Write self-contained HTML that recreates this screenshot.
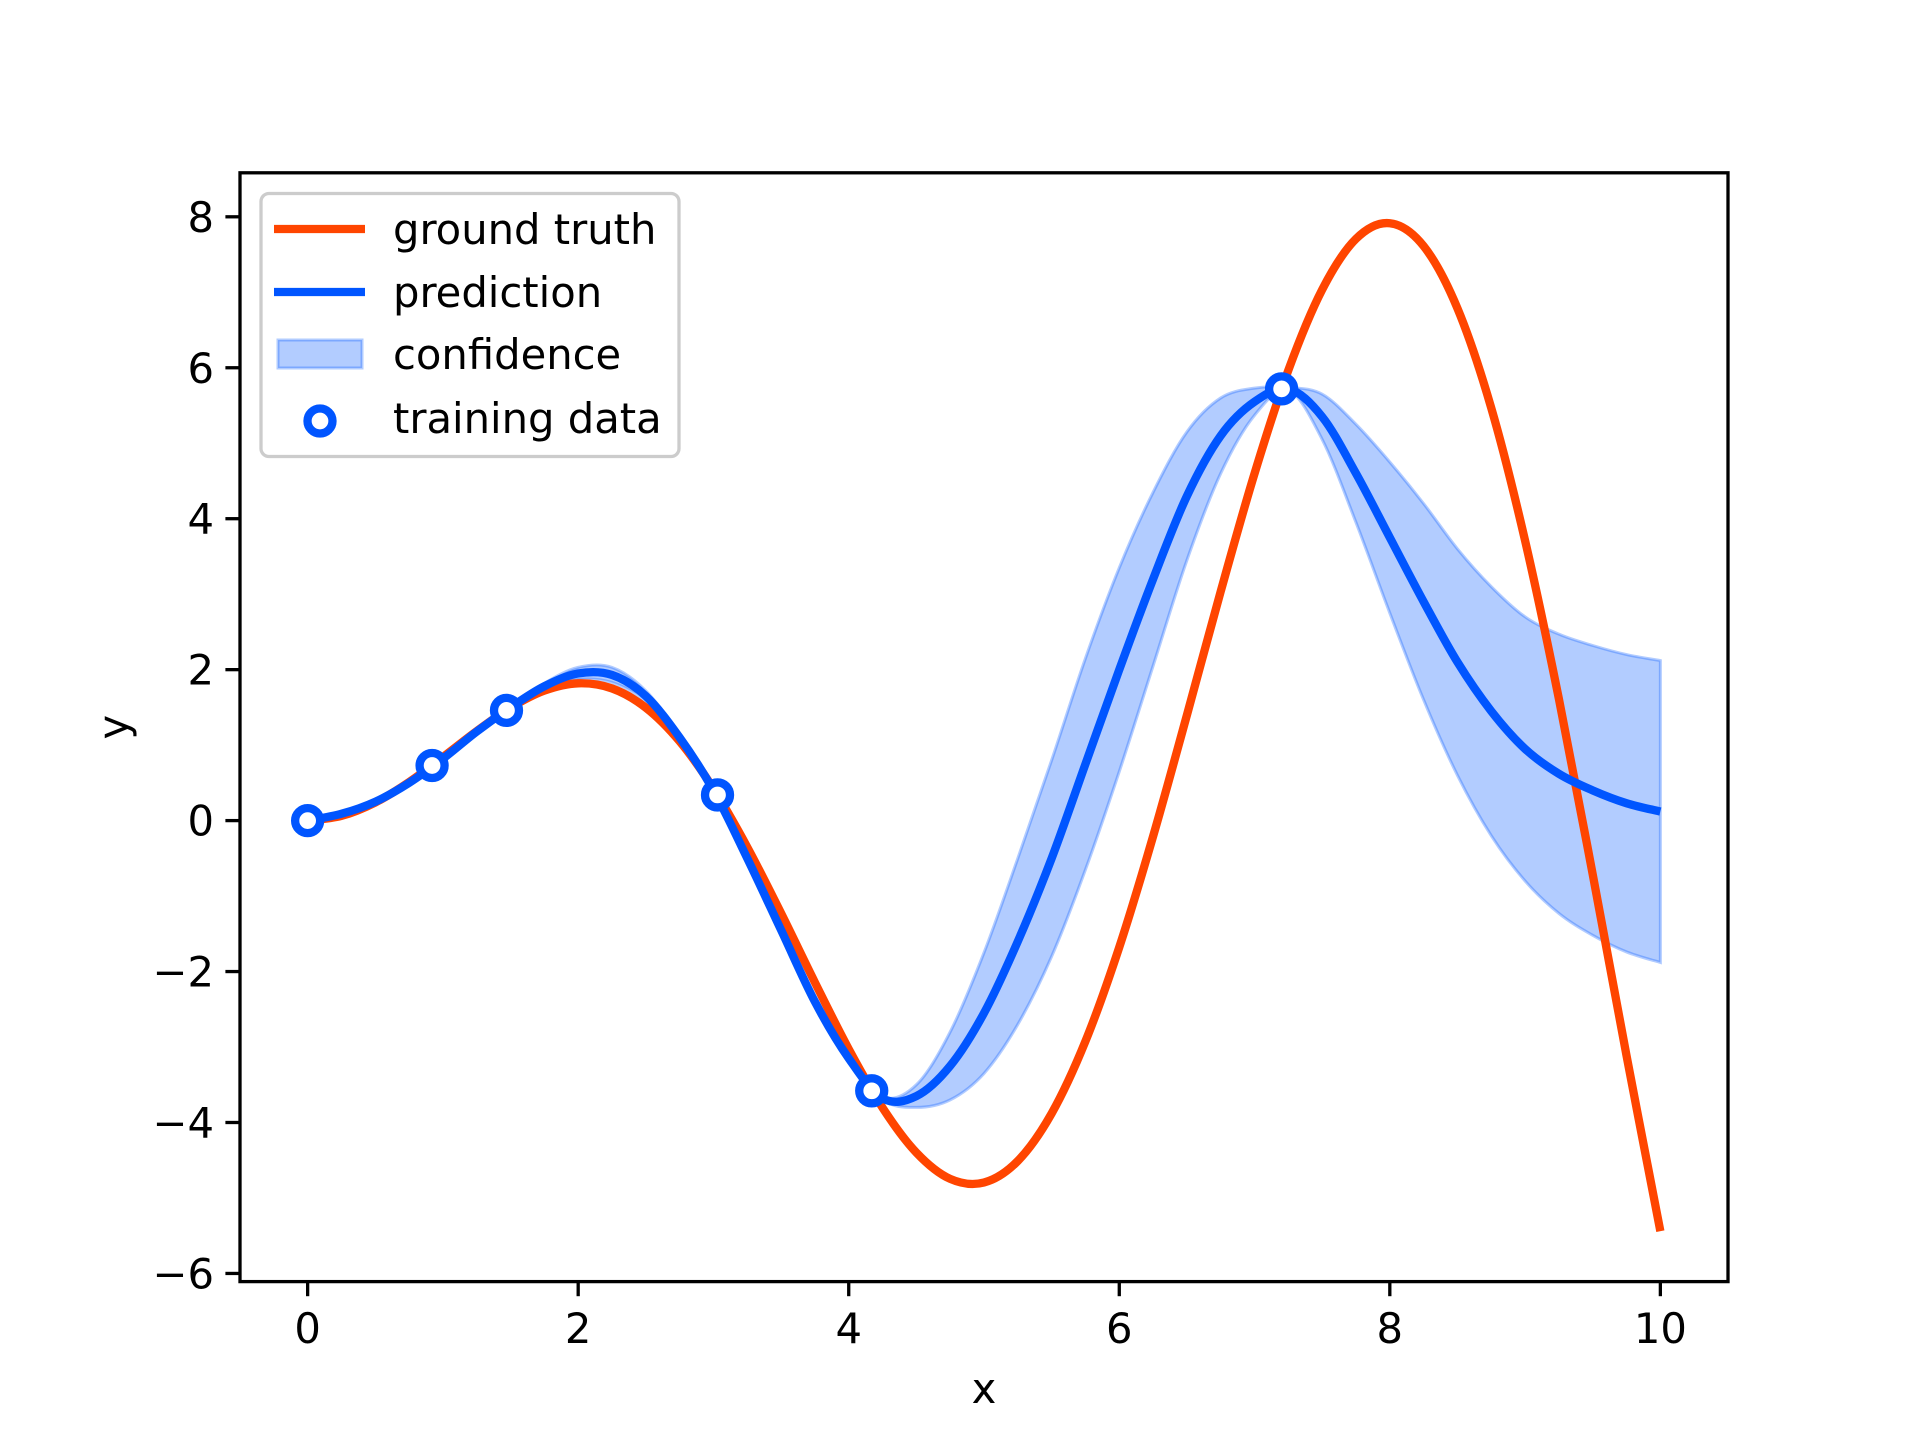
<!DOCTYPE html>
<html><head><meta charset="utf-8"><style>
html,body{margin:0;padding:0;background:#fff}
svg{display:block}
text{font-family:"DejaVu Sans","Liberation Sans",sans-serif;fill:#000}
</style></head><body>
<svg id="chart" width="1920" height="1440" viewBox="0 0 1920 1440" xmlns="http://www.w3.org/2000/svg">
<rect x="0" y="0" width="1920" height="1440" fill="#fff"/>
<g id="plot"></g>
<g id="axes"></g>
<g id="legend"></g>
</svg>
<script>
const xs = [0,0.25,0.5,0.75,1,1.25,1.5,1.75,2,2.25,2.5,2.75,3,3.25,3.5,3.75,4,4.25,4.5,4.75,5,5.25,5.5,5.75,6,6.25,6.5,6.75,7,7.25,7.5,7.75,8,8.25,8.5,8.75,9,9.25,9.5,9.75,10];
const truth = [0,0.062,0.240,0.511,0.842,1.186,1.496,1.722,1.819,1.751,1.496,1.050,0.423,-0.352,-1.228,-2.144,-3.027,-3.804,-4.399,-4.747,-4.795,-4.509,-3.880,-2.923,-1.677,-0.208,1.398,3.038,4.599,5.968,7.035,7.708,7.915,7.612,6.787,5.466,3.709,1.612,-0.714,-3.115,-5.440];
const pred = [0,0.09,0.25,0.5,0.82,1.18,1.5,1.78,1.95,1.93,1.65,1.1,0.4,-0.5,-1.45,-2.4,-3.15,-3.68,-3.65,-3.25,-2.55,-1.6,-0.5,0.75,2.0,3.2,4.3,5.1,5.55,5.72,5.35,4.6,3.75,2.9,2.1,1.45,0.95,0.62,0.4,0.23,0.12];
const stdv = [0,0.01,0.01,0.01,0.01,0.01,0.01,0.04,0.08,0.1,0.07,0.03,0.01,0.03,0.05,0.04,0.02,0.02,0.15,0.45,0.8,1.1,1.3,1.4,1.35,1.15,0.85,0.5,0.18,0.02,0.3,0.65,1.0,1.3,1.5,1.65,1.75,1.85,1.92,1.97,2.0];
const trainX = [0,0.92,1.47,3.03,4.17,7.2];
const trainY = [0,0.73,1.46,0.34,-3.58,5.72];
const xTicks = [0,2,4,6,8,10];
const yTicks = [-6,-4,-2,0,2,4,6,8];
const xTickLabels = ["0","2","4","6","8","10"];
const yTickLabels = ["\u22126","\u22124","\u22122","0","2","4","6","8"];

const L=240,R=1728,T=172.8,B=1281.6;
const xMin=-0.5,xMax=10.5,yMin=-6.108,yMax=8.583;
const sx=v=>L+(v-xMin)/(xMax-xMin)*(R-L);
const sy=v=>B-(v-yMin)/(yMax-yMin)*(B-T);
const NS="http://www.w3.org/2000/svg";
function mk(tag,attrs,parent){const e=document.createElementNS(NS,tag);for(const k in attrs)e.setAttribute(k,attrs[k]);parent.appendChild(e);return e;}
function smooth(pts){
  let d="M"+pts[0][0].toFixed(2)+","+pts[0][1].toFixed(2);
  for(let i=0;i<pts.length-1;i++){
    const p0=pts[Math.max(i-1,0)],p1=pts[i],p2=pts[i+1],p3=pts[Math.min(i+2,pts.length-1)];
    const c1=[p1[0]+(p2[0]-p0[0])/6,p1[1]+(p2[1]-p0[1])/6];
    const c2=[p2[0]-(p3[0]-p1[0])/6,p2[1]-(p3[1]-p1[1])/6];
    d+=" C"+c1[0].toFixed(2)+","+c1[1].toFixed(2)+" "+c2[0].toFixed(2)+","+c2[1].toFixed(2)+" "+p2[0].toFixed(2)+","+p2[1].toFixed(2);
  }
  return d;
}
const plot=document.getElementById('plot');
const axes=document.getElementById('axes');
const legend=document.getElementById('legend');

const up=xs.map((x,i)=>[sx(x),sy(pred[i]+stdv[i])]);
const lo=xs.map((x,i)=>[sx(x),sy(pred[i]-stdv[i])]).reverse();
const upD=smooth(up);
const loD=smooth(lo).replace(/^M/," L");
const band=mk('path',{d:upD+loD+" Z",fill:"#0055ff","fill-opacity":"0.3",stroke:"#0055ff","stroke-opacity":"0.3","stroke-width":"3"},plot);



const gt=mk('path',{d:smooth(xs.map((x,i)=>[sx(x),sy(truth[i])])),fill:"none",stroke:"#ff4500","stroke-width":"8.3","stroke-linejoin":"round"},plot);



const pr=mk('path',{d:smooth(xs.map((x,i)=>[sx(x),sy(pred[i])])),fill:"none",stroke:"#0055ff","stroke-width":"8.3","stroke-linejoin":"round"},plot);



trainX.forEach((x,i)=>{
  const c=mk('circle',{cx:sx(x),cy:sy(trainY[i]),r:12.5,fill:"#fff",stroke:"#0055ff","stroke-width":"8.3"},plot);
  
  
});

const fr=mk('rect',{x:L,y:T,width:R-L,height:B-T,fill:"none",stroke:"#000","stroke-width":"3.3"},axes);



xTicks.forEach((v,i)=>{
  const tk=mk('line',{x1:sx(v),x2:sx(v),y1:B,y2:B+14.6,stroke:"#000","stroke-width":"3.3"},axes);
  
  
  const t=mk('text',{x:sx(v),y:1343,"text-anchor":"middle","font-size":"41.7"},axes);
  t.textContent=xTickLabels[i];
  
  
});
yTicks.forEach((v,i)=>{
  const tk=mk('line',{x1:L-14.6,x2:L,y1:sy(v),y2:sy(v),stroke:"#000","stroke-width":"3.3"},axes);
  
  
  const t=mk('text',{x:L-26,y:sy(v)+15,"text-anchor":"end","font-size":"41.7"},axes);
  t.textContent=yTickLabels[i];
  
  
});
const xl=mk('text',{x:(L+R)/2,y:1403,"text-anchor":"middle","font-size":"41.7"},axes);
xl.textContent="x";


const yl=mk('text',{x:0,y:0,"text-anchor":"middle","font-size":"41.7",transform:"translate(128,"+((T+B)/2)+") rotate(-90)"},axes);
yl.textContent="y";



const lb=mk('rect',{x:261,y:193.5,width:418,height:263,rx:8,fill:"#fff","fill-opacity":"0.8",stroke:"#cccccc","stroke-width":"3.3"},legend);


const rows=[229,292,354,418];
const labels=["ground truth","prediction","confidence","training data"];
const l1=mk('line',{x1:274,x2:365,y1:rows[0],y2:rows[0],stroke:"#ff4500","stroke-width":"8.3"},legend);


const l2=mk('line',{x1:274,x2:365,y1:rows[1],y2:rows[1],stroke:"#0055ff","stroke-width":"8.3"},legend);


const l3=mk('rect',{x:278,y:340,width:84,height:28,fill:"#0055ff","fill-opacity":"0.3",stroke:"#0055ff","stroke-opacity":"0.3","stroke-width":"3"},legend);


const l4=mk('circle',{cx:320,cy:rows[3]+3,r:12.5,fill:"#fff",stroke:"#0055ff","stroke-width":"8.3"},legend);


labels.forEach((s,i)=>{
  const t=mk('text',{x:393,y:rows[i]+15,"font-size":"41.7"},legend);
  t.textContent=s;
  
  
});
</script>
</body></html>
